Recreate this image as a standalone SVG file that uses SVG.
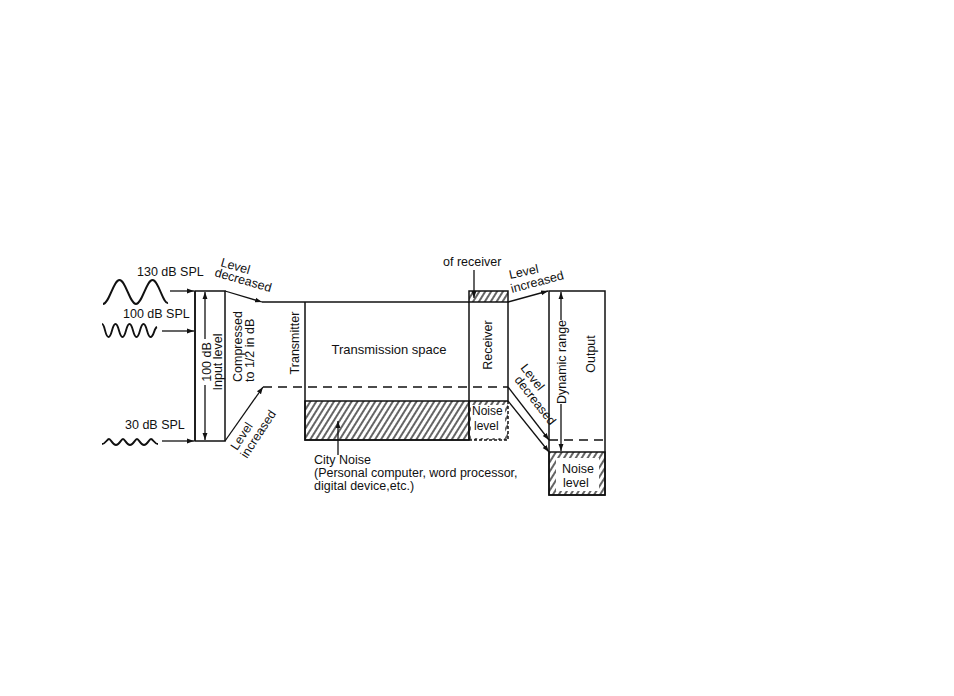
<svg xmlns="http://www.w3.org/2000/svg" width="954" height="696" viewBox="0 0 954 696">
<defs>
<style>
text{font-family:"Liberation Sans",Arial,sans-serif;font-size:12.5px;fill:#111}
.ln{stroke:#111;stroke-width:1.5;fill:none}
.ds{stroke:#111;stroke-width:1.6;fill:none;stroke-dasharray:9,6}
.hatch{fill:url(#hp);stroke:#111;stroke-width:1.5}
.arr{stroke:#111;stroke-width:1.3;fill:none;marker-end:url(#ah)}
.wv{stroke:#111;stroke-width:1.9;fill:none}
</style>
<pattern id="hp" width="5" height="5" patternUnits="userSpaceOnUse" patternTransform="rotate(32)">
<line x1="1" y1="0" x2="1" y2="5" stroke="#111" stroke-width="1.3"/>
</pattern>
<marker id="ah" viewBox="0 0 10 10" refX="10" refY="5" markerWidth="7" markerHeight="7" orient="auto-start-reverse" markerUnits="userSpaceOnUse">
<path d="M0,1.5 L10,5 L0,8.5 z" fill="#111"/>
</marker>
</defs>
<rect width="954" height="696" fill="#fff"/>

<g id="sources">
<path class="wv" d="M103,304 C109,304 113.5,280 119.5,280 C125.5,280 130,304 136,304 C142,304 146.5,280 152.5,280 C158.5,280 163,304 168,303"/>
<path class="wv" d="M102,324 C105,324 105,337 108.5,337 C112,337 112,324 115.5,324 C119,324 119,337 122.5,337 C126,337 126,324 129.5,324 C133,324 133,337 136.5,337 C140,337 140,324 143.5,324 C147,324 147,337 150.5,337 C154,337 154,328 157,327"/>
<path class="wv" d="M102,444 C105.5,444 107,439 109,439 C111,439 112.5,445 116,445 C119.5,445 121,439 123,439 C125,439 126.5,445 130,445 C133.5,445 135,439 137,439 C139,439 140.5,445 144,445 C147.5,445 149,439 151,439 C153,439 154.5,444 158,444"/>
<text x="137" y="276">130 dB SPL</text>
<text x="123" y="318">100 dB SPL</text>
<text x="125" y="429">30 dB SPL</text>
</g>

<g id="input-level">
<line class="ln" x1="195" y1="291" x2="195" y2="441"/>
<rect class="ln" x="195" y="291" width="30" height="150"/>
<line class="arr" x1="205" y1="339" x2="205" y2="292"/>
<line class="arr" x1="205" y1="385" x2="205" y2="440"/>
<text transform="translate(207,362) rotate(-90)" text-anchor="middle" dominant-baseline="central">100 dB</text>
<text transform="translate(218,362) rotate(-90)" text-anchor="middle" dominant-baseline="central">Input level</text>
</g>

<g id="compressor">
<text transform="translate(238,382) rotate(-90)" dominant-baseline="central">Compressed</text>
<text transform="translate(250,382) rotate(-90)" dominant-baseline="central">to 1/2 in dB</text>
</g>

<g id="transmitter">
<text transform="translate(295,343) rotate(-90)" text-anchor="middle" dominant-baseline="central">Transmitter</text>
</g>

<g id="transmission-space">
<polyline class="ln" points="305,302 305,440 469,440"/>
<rect class="hatch" x="305" y="401" width="164" height="39"/>
<text x="389" y="354" text-anchor="middle" style="font-size:13px">Transmission space</text>
</g>

<g id="city-noise">
<text x="314" y="464">City Noise</text>
<text x="314" y="477">(Personal computer, word processor,</text>
<text x="314" y="490">digital device,etc.)</text>
</g>

<g id="receiver">
<rect class="hatch" x="469" y="291" width="39" height="11"/>
<polyline class="ln" points="469,302 469,440"/>
<polyline class="ln" points="508,302 508,401"/>
<rect x="469" y="401" width="39" height="39" fill="url(#hp)"/>
<rect x="471" y="405" width="34" height="33" fill="#fff"/>
<line class="ln" x1="469" y1="401" x2="508" y2="401"/>
<polyline class="ln" points="508,401 508,440 469,440" stroke-dasharray="3,2"/>
<text transform="translate(488,345) rotate(-90)" text-anchor="middle" dominant-baseline="central">Receiver</text>
<text x="472" y="415" style="font-size:12px">Noise</text>
<text x="474" y="430" style="font-size:12px">level</text>
<text x="443" y="266">of receiver</text>
</g>

<g id="output">
<rect class="ln" x="549" y="291" width="56" height="204"/>
<line class="ds" x1="549" y1="440" x2="605" y2="440"/>
<rect class="hatch" x="549" y="452" width="56" height="43"/>
<rect x="556" y="458" width="43" height="33" fill="#fff"/>
<line class="arr" x1="561" y1="320" x2="561" y2="292"/>
<line class="arr" x1="561" y1="404" x2="561" y2="451"/>
<text transform="translate(562,362) rotate(-90)" text-anchor="middle" dominant-baseline="central">Dynamic range</text>
<text transform="translate(591,354) rotate(-90)" text-anchor="middle" dominant-baseline="central">Output</text>
<text x="562" y="473">Noise</text>
<text x="563" y="487">level</text>
</g>

<g id="labels">
<g transform="translate(220,266) rotate(16)"><text>Level</text></g>
<g transform="translate(214,276) rotate(16)"><text>decreased</text></g>
<g transform="translate(237,451) rotate(-57)"><text>Level</text></g>
<g transform="translate(247,459) rotate(-57)"><text>increased</text></g>
<g transform="translate(510,279) rotate(-12)"><text>Level</text></g>
<g transform="translate(512,293) rotate(-15)"><text>increased</text></g>
<g transform="translate(520,368) rotate(52)"><text>Level</text></g>
<g transform="translate(514,380) rotate(52)"><text>decreased</text></g>
</g>

<g id="connectors">
<line class="arr" x1="170" y1="291" x2="194" y2="291"/>
<line class="arr" x1="162" y1="331" x2="194" y2="331"/>
<line class="arr" x1="162" y1="441" x2="194" y2="441"/>
<line class="arr" x1="225" y1="291" x2="262" y2="302"/>
<line class="ln" x1="262" y1="302" x2="469" y2="302"/>
<line class="arr" x1="225" y1="441" x2="263" y2="387"/>
<line class="ds" x1="263" y1="387" x2="508" y2="387"/>
<line class="arr" x1="474" y1="270" x2="474" y2="298"/>
<line class="arr" x1="338" y1="455" x2="338" y2="421"/>
<line class="arr" x1="508" y1="302" x2="548" y2="291"/>
<line class="arr" x1="508" y1="387" x2="549" y2="440"/>
<line class="arr" x1="508" y1="401" x2="549" y2="452"/>
</g>
</svg>
